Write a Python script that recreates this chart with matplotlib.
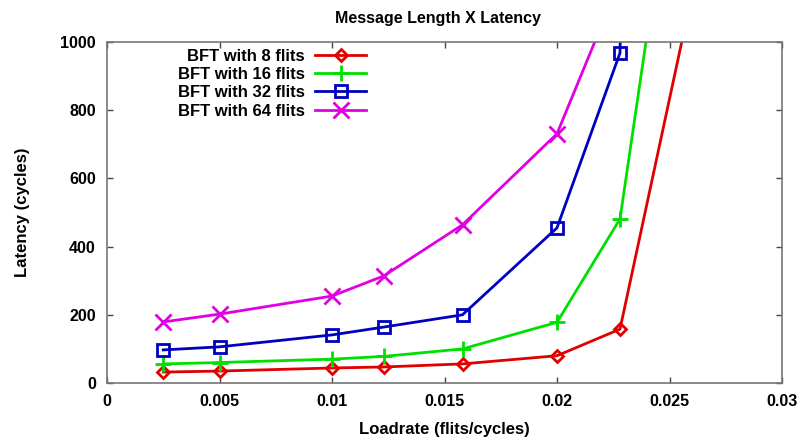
import matplotlib
matplotlib.use("Agg")
import matplotlib.pyplot as plt

plt.rcParams['font.family'] = ['Liberation Sans', 'DejaVu Sans']

loadrate = [0.0025, 0.005, 0.01, 0.0123, 0.0158, 0.02, 0.0228]
lat8 = [32, 35, 44, 47, 56, 80, 158]
lat16 = [56, 60, 70, 78, 100, 178, 481]
lat32 = [97, 106, 141, 164, 200, 455, 968]
lat64 = [179, 202, 255, 314, 464, 731]

# points beyond the visible range (lines leave the plot at the top)
x8_tail, y8_tail = [0.026], [1140]
x16_tail, y16_tail = [0.025], [1470]
x32_tail, y32_tail = [0.0229], [1300]
x64_tail, y64_tail = [0.0228], [1180]

labels = ['BFT with 8 flits', 'BFT with 16 flits', 'BFT with 32 flits', 'BFT with 64 flits']
colors = ['#e00000', '#00e000', '#0000c0', '#e000e0']
markers = ['D', '+', 's', 'x']

fig = plt.figure(figsize=(8.04, 4.44), dpi=100)
ax = fig.add_axes([107/804, 1-383/444, (782-107)/804, (383-42)/444])

series = [
    (loadrate + x8_tail, lat8 + y8_tail, len(lat8)),
    (loadrate + x16_tail, lat16 + y16_tail, len(lat16)),
    (loadrate + x32_tail, lat32 + y32_tail, len(lat32)),
    (loadrate[:len(lat64)] + x64_tail, lat64 + y64_tail, len(lat64)),
]
msize = {'D': 6, '+': 11, 's': 8, 'x': 11}
for (xs, ys, n), lab, c, m in zip(series, labels, colors, markers):
    ax.plot(xs, ys, color=c, lw=2, label=lab, marker=m, markevery=list(range(n)),
            markersize=msize[m], markerfacecolor='none', markeredgecolor=c,
            markeredgewidth=2, clip_on=True)

ax.set_xlim(0, 0.03)
ax.set_ylim(0, 1000)
ax.set_xticks([0, 0.005, 0.01, 0.015, 0.02, 0.025, 0.03])
ax.set_xticklabels(['0', '0.005', '0.01', '0.015', '0.02', '0.025', '0.03'])
ax.set_yticks([0, 200, 400, 600, 800, 1000])
ax.tick_params(direction='in', top=True, right=True, length=4, width=1,
               labelsize=11.5, color='#444444', pad=8)
for lab in ax.get_xticklabels() + ax.get_yticklabels():
    lab.set_fontweight('bold')
for s in ax.spines.values():
    s.set_color('#777777')
    s.set_linewidth(1.2)

ax.set_title('Message Length X Latency', fontsize=11.5, fontweight='bold', pad=14, x=0.49)
ax.set_xlabel('Loadrate (flits/cycles)', fontsize=12, fontweight='bold', labelpad=9)
ax.set_ylabel('Latency (cycles)', fontsize=12, fontweight='bold', labelpad=22)

leg = ax.legend(loc='upper right', bbox_to_anchor=((365-107)/675 + 0.012, 1.0),
                markerfirst=False,
                frameon=False, prop={'weight': 'bold', 'size': 12},
                handlelength=3.1, labelspacing=0.2, handletextpad=0.6,
                borderaxespad=0.2, borderpad=0.2)
for t in leg.get_texts():
    t.set_ha('right')

fig.savefig('out.png', dpi=100)
